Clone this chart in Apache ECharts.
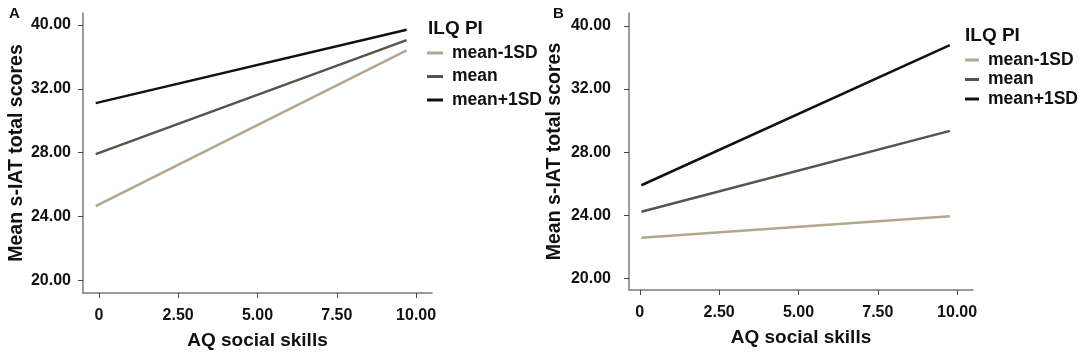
<!DOCTYPE html>
<html>
<head>
<meta charset="utf-8">
<script src="https://cdn.jsdelivr.net/npm/echarts@6/dist/echarts.min.js"></script>
<style>
  html, body { margin: 0; padding: 0; background: #fff; }
  #chart { width: 1084px; height: 355px; }
</style>
</head>
<body>
<div id="chart"></div>
<script>
// series names (ILQ PI levels)
const groups = ['mean-1SD', 'mean', 'mean+1SD'];
const colors = ['#b3a78d', '#58524a', '#111111'];

// x = AQ social skills, line end points
const xA = [-0.1, 9.7];
const xB = [0.05, 9.77];

// y = mean s-IAT total scores, [start, end] per group
const panelA = [
  [24.65, 34.4],   // mean-1SD
  [27.9, 35.05],   // mean
  [31.1, 35.7]     // mean+1SD
];
const panelB = [
  [22.57, 23.93],
  [24.22, 29.35],
  [25.9, 34.78]
];

// tick positions and their printed labels (top label reads 40.00 in the source)
const xTickValues = [0, 2.5, 5, 7.5, 10];
const xTickLabels = ['0', '2.50', '5.00', '7.50', '10.00'];
const yTickValues = [20, 24, 28, 32, 36];
const yTickLabels = ['20.00', '24.00', '28.00', '32.00', '40.00'];

const font = "'Liberation Sans', Arial, sans-serif";
const axisColor = '#7a7a7a';

function xAxisFor(idx, minV) {
  return {
    gridIndex: idx,
    type: 'value',
    min: minV,
    max: 10.5,
    name: 'AQ social skills',
    nameLocation: 'middle',
    nameGap: 38,
    nameMoveOverlap: false,
    nameTextStyle: { fontFamily: font, fontWeight: 'bold', fontSize: 19, color: '#111' },
    axisLine: { onZero: false, lineStyle: { color: axisColor, width: 1.5 } },
    axisTick: { customValues: xTickValues, length: 5, lineStyle: { color: '#444', width: 1 } },
    axisLabel: {
      customValues: xTickValues,
      margin: 15,
      fontFamily: font, fontWeight: 'bold', fontSize: 16, color: '#111',
      formatter: v => xTickLabels[xTickValues.indexOf(v)]
    },
    splitLine: { show: false }
  };
}

function yAxisFor(idx, minV, maxV, gap, margin) {
  return {
    gridIndex: idx,
    type: 'value',
    min: minV,
    max: maxV,
    name: 'Mean s-IAT total scores',
    nameLocation: 'middle',
    nameGap: gap,
    nameMoveOverlap: false,
    nameTextStyle: { fontFamily: font, fontWeight: 'bold', fontSize: 19.5, color: '#111' },
    axisLine: { show: true, onZero: false, lineStyle: { color: axisColor, width: 1.5 } },
    axisTick: { show: true, customValues: yTickValues, length: 5, lineStyle: { color: '#444', width: 1 } },
    axisLabel: {
      customValues: yTickValues,
      margin: margin,
      fontFamily: font, fontWeight: 'bold', fontSize: 16, color: '#111',
      formatter: v => yTickLabels[yTickValues.indexOf(v)]
    },
    splitLine: { show: false }
  };
}

function legendFor(left, top, gap, w) {
  return {
    left: left,
    top: top,
    orient: 'vertical',
    data: groups,
    icon: 'rect',
    itemWidth: w,
    itemHeight: 3,
    itemGap: gap,
    selectedMode: false,
    textStyle: {
      fontFamily: font, fontWeight: 'bold', fontSize: 17.5, color: '#111',
      lineHeight: 18, padding: [0, 0, 0, 4]
    }
  };
}

function makeSeries(vals, xs, idx) {
  return vals.map((v, i) => ({
    name: groups[i],
    type: 'line',
    xAxisIndex: idx,
    yAxisIndex: idx,
    data: [[xs[0], v[0]], [xs[1], v[1]]],
    showSymbol: false,
    silent: true,
    lineStyle: { color: colors[i], width: 2.5 },
    itemStyle: { color: colors[i] }
  }));
}

const titleStyle = { fontFamily: font, fontWeight: 'bold', color: '#111' };

const chart = echarts.init(document.getElementById('chart'), null, { renderer: 'canvas' });
chart.setOption({
  animation: false,
  backgroundColor: '#fff',
  title: [
    { text: 'A', left: 4, top: 1, textStyle: { ...titleStyle, fontSize: 15 } },
    { text: 'B', left: 548, top: 1, textStyle: { ...titleStyle, fontSize: 15 } },
    { text: 'ILQ PI', left: 423, top: 14, textStyle: { ...titleStyle, fontSize: 19 } },
    { text: 'ILQ PI', left: 960, top: 21, textStyle: { ...titleStyle, fontSize: 19 } }
  ],
  legend: [
    legendFor(422, 39, 5.5, 16),
    legendFor(960, 46, 1.5, 14)
  ],
  grid: [
    { left: 83, top: 13, width: 349, height: 280 },
    { left: 629, top: 13, width: 344, height: 277 }
  ],
  xAxis: [xAxisFor(0, -0.5), xAxisFor(1, -0.34)],
  yAxis: [yAxisFor(0, 19.2, 36.75, 56, 12), yAxisFor(1, 19.26, 36.82, 64, 18)],
  series: [
    ...makeSeries(panelA, xA, 0),
    ...makeSeries(panelB, xB, 1)
  ]
});
</script>
</body>
</html>
